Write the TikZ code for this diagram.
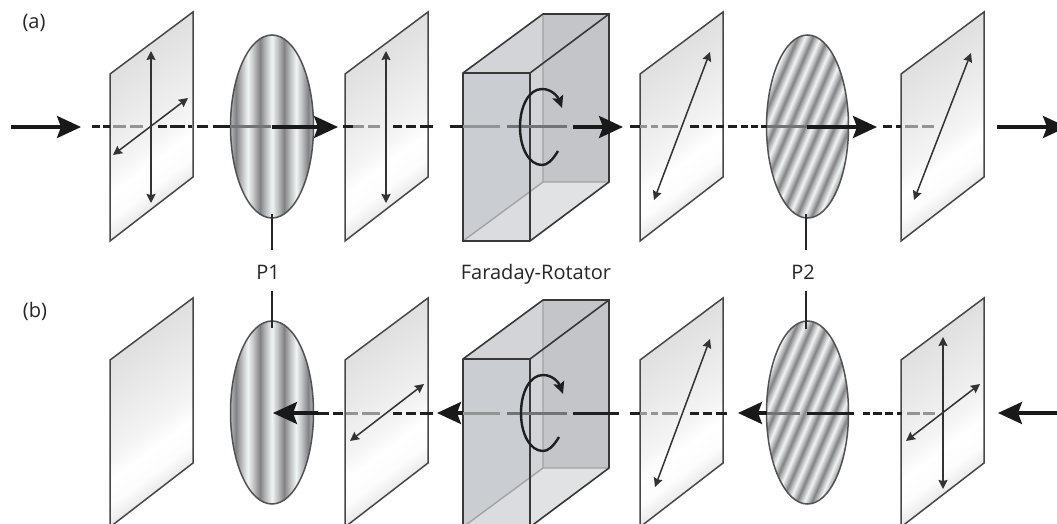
\documentclass[tikz,border=0pt]{standalone}
\usepackage{fontspec}
\setmainfont{Open Sans}
\usetikzlibrary{arrows.meta}
\pgfdeclareverticalshading{plateshade}{100bp}{
 color(0bp)=(white!86!black); color(25bp)=(white!86!black); color(31bp)=(white!93!black); color(35bp)=(white!99!black);
 color(41bp)=(white); color(46bp)=(white!96!black); color(54bp)=(white!93!black); color(66bp)=(white!89!black); color(75bp)=(white!86!black); color(100bp)=(white!86!black)}
\definecolor{sl}{HTML}{F1F5F6}\definecolor{sm}{HTML}{BDBFC1}\definecolor{sd}{HTML}{808285}
\pgfdeclarehorizontalshading{stripesV}{100bp}{
 color(0bp)=(sd);color(6.5bp)=(sl);color(10.1bp)=(sm);color(13.75bp)=(sd);color(17.4bp)=(sm);color(21bp)=(sl);color(24.6bp)=(sm);color(28.25bp)=(sd);color(31.9bp)=(sm);color(35.5bp)=(sl);color(39.1bp)=(sm);color(42.75bp)=(sd);color(46.4bp)=(sm);
 color(50bp)=(sl);color(53.6bp)=(sm);color(57.25bp)=(sd);color(60.9bp)=(sm);color(64.5bp)=(sl);color(68.1bp)=(sm);color(71.75bp)=(sd);color(75.4bp)=(sm);color(79bp)=(sl);color(100bp)=(sl)}
\pgfdeclarehorizontalshading{stripesD}{100bp}{
 color(0bp)=(sm);color(22.5bp)=(sm);color(24.05bp)=(sd);color(25.6bp)=(sm);color(27.15bp)=(sl);color(28.7bp)=(sm);color(30.25bp)=(sd);color(31.8bp)=(sm);color(33.35bp)=(sl);color(34.9bp)=(sm);color(36.45bp)=(sd);color(38bp)=(sm);color(39.55bp)=(sl);color(41.1bp)=(sm);color(42.65bp)=(sd);color(44.2bp)=(sm);color(45.75bp)=(sl);color(47.3bp)=(sm);color(48.85bp)=(sd);color(50.4bp)=(sm);color(51.95bp)=(sl);color(53.5bp)=(sm);color(55.05bp)=(sd);color(56.6bp)=(sm);color(58.15bp)=(sl);color(59.7bp)=(sm);color(61.25bp)=(sd);color(62.8bp)=(sm);color(64.35bp)=(sl);color(65.9bp)=(sm);color(67.45bp)=(sd);color(69bp)=(sm);color(70.55bp)=(sl);color(72.1bp)=(sm);color(73.65bp)=(sd);color(75.2bp)=(sm);color(76.75bp)=(sl);color(78.3bp)=(sm);color(100bp)=(sm)}
\definecolor{rotBase}{HTML}{D2D4D7}\definecolor{rotBack}{HTML}{C3C5C8}
\definecolor{rotBot}{HTML}{E0E2E4}\definecolor{rotFront}{HTML}{CACDD1}\definecolor{rotFrontLow}{HTML}{DADCDF}
\tikzset{
 plateedge/.style={draw=black!72,line width=1.5pt,line join=miter,shading=plateshade,shading angle=37},
 lensedge/.style={draw=black!68,line width=1.5pt},
 ax/.style={line width=3pt,black!88},
 axg/.style={line width=3pt,black!42},
 axd/.style={line width=3pt,black!55},
 big/.style={line width=3.2pt,black!90,-{Stealth[length=24pt,width=22pt,inset=4pt]}},
 pol/.style={line width=1.5pt,black!80,{Stealth[length=9pt,width=9pt,inset=1pt]}-{Stealth[length=9pt,width=9pt,inset=1pt]}},
 curl/.style={line width=2.4pt,black!88,-{Stealth[length=12pt,width=11pt,inset=2pt]}},
 leader/.style={line width=1.5pt,black!85},
 lab/.style={font=\fontsize{20}{22}\selectfont,text=black!85,anchor=base,inner sep=0pt},
}
\newcommand\plate[1]{\path[plateedge] (#1,74)--(#1+83,12)--(#1+83,177)--(#1,241)--cycle;}
\newcommand\lensV{\shade[lensedge,shading=stripesV] (272,126.5) ellipse [x radius=41.5,y radius=91.5];}
\newcommand\lensD{\shade[lensedge,shading=stripesD,shading angle=-23] (807.5,126.5) ellipse [x radius=41,y radius=91.5];}
\newcommand\rotator{%
 \fill[rotBase] (463,73)--(543,14)--(609,14)--(609,182)--(530,241)--(463,241)--cycle;
 \fill[rotBack] (543,14) rectangle (609,182);
 \fill[rotBot] (463,241)--(530,241)--(609,182)--(543,182)--cycle;
 \fill[rotFront] (463,73) rectangle (530,241);
 \fill[rotFrontLow] (463,241)--(530,191.6)--(530,241)--cycle;
 \draw[black!36,line width=1.4pt] (543,14)--(543,182)--(609,182) (543,182)--(463,241);
 \draw[black!78,line width=1.6pt,line join=miter] (463,73)--(543,14)--(609,14)--(609,182)--(530,241)--(463,241)--cycle
   (463,73)--(530,73)--(530,241) (530,73)--(609,14);}
\newcommand\segs[2]{\foreach \p/\q in {#2}{\draw[#1] (\p,127)--(\q,127);}}
\begin{document}
\begin{tikzpicture}[x=1pt,y=-1pt]
\useasboundingbox (0,0) rectangle (1057,524);
\clip (0,0) rectangle (1057,524);
\fill[white] (0,0) rectangle (1057,524);
% ---------- (a)
\begin{scope}
 \plate{110}\plate{345}\plate{640}\plate{901}
 \lensV\lensD\rotator
 \segs{ax}{92/100,103/110,158/167,170/185,188/192,197/208,213/230,343/353,393/402,406/416,420/433,450/463,630/640,690/699,703/712,716/724,728/737,741/748,751/758,761/767,883/892,896/901}
 \segs{axg}{113/126,130/143,353/364,368/380,463/500,640/647,651/658,662/678,905/918,922/934}
 \segs{axd}{230/271,507/567,767/807}
 \draw[big] (11,127)--(81,127);
 \draw[big] (272,127)--(338,127);
 \draw[big] (573,127)--(623,127);
 \draw[big] (807,127)--(877,127);
 \draw[big] (997,127)--(1067,127);
 \draw[pol] (151,51)--(151,203);
 \draw[pol] (113,155)--(188,98);
 \draw[pol] (386,51)--(386,203);
 \draw[pol] (654,200)--(710,52);
 \draw[pol] (914,200)--(971,53);
 \draw[curl] (558,151) .. controls (552,161) and (547,165) .. (542,165) .. controls (529,165) and (520,148) .. (520,127) .. controls (520,106) and (529,89) .. (542,89) .. controls (552,89) and (558,97) .. (562,108);
\end{scope}
% ---------- (b)
\begin{scope}[yshift=-286pt]
 \plate{110}\plate{345}\plate{640}\plate{901}
 \lensV\lensD\rotator
 \segs{ax}{333/343,318/329,393/402,406/416,420/433,630/640,573/619,690/699,703/712,716/727,807/854,863/870,873/882,885/893,897/902}
 \segs{axg}{346/358,362/380,463/500,640/647,651/658,662/678,907/920,923/935}
 \segs{axd}{507/567,767/800}
 \draw[big] (318,127)--(273,127);
 \draw[big] (463,127)--(437,127);
 \draw[big] (767,127)--(738,127);
 \draw[big] (1070,127)--(998,127);
 \draw[pol] (710,53)--(655,201);
 \draw[pol] (350,155)--(424,98);
 \draw[pol] (943,51)--(943,203);
 \draw[pol] (906,155)--(980,98);
 \draw[curl] (559,151) .. controls (553,161) and (548,165) .. (543,165) .. controls (530,165) and (521,148) .. (521,127) .. controls (521,106) and (530,89) .. (543,89) .. controls (553,89) and (559,97) .. (563,108);
\end{scope}
% ---------- labels and leaders
\node[lab] (tagA) at (34,29) {(a)};
\node[lab] (tagB) at (35,317) {(b)};
\node[lab] (pOne) at (268,279) {P1};
\node[lab] (rot) at (536,279) {Faraday-Rotator};
\node[lab] (pTwo) at (803,279) {P2};
\coordinate (pOneTop) at (272,250);
\coordinate (pOneA) at (272,214);
\coordinate (pOneBot) at (272,291);
\coordinate (pOneB) at (272,328);
\coordinate (pTwoTop) at (806,250);
\coordinate (pTwoA) at (806,214);
\coordinate (pTwoBot) at (806,291);
\coordinate (pTwoB) at (806,329);
\draw[leader] (pOneA)--(pOneTop) (pOneBot)--(pOneB) (pTwoA)--(pTwoTop) (pTwoBot)--(pTwoB);
\end{tikzpicture}
\end{document}
